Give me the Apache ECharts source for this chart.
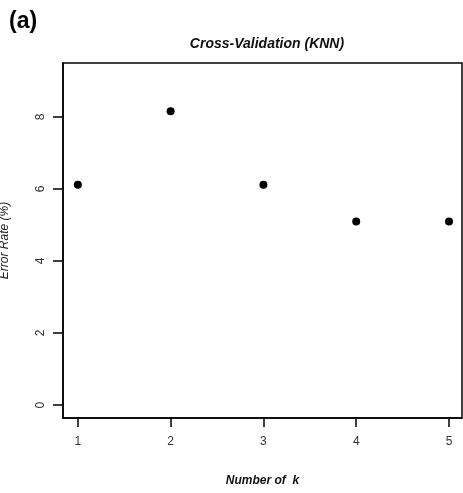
<!DOCTYPE html>
<html><head><meta charset="utf-8">
<script src="https://cdn.jsdelivr.net/npm/echarts@6/dist/echarts.min.js"></script>
<style>html,body{margin:0;padding:0;background:#fff}#c{width:463px;height:493px}</style>
</head><body><div id="c"></div>
<script>
const kValues = [1, 2, 3, 4, 5];
const errorRates = [6.12, 8.16, 6.12, 5.10, 5.10];
const xTicks = [1, 2, 3, 4, 5];
const yTicks = [0, 2, 4, 6, 8];

const chart = echarts.init(document.getElementById('c'), null, {renderer: 'canvas'});
const font = 'Liberation Sans, Arial, sans-serif';
chart.setOption({
  animation: false,
  backgroundColor: '#fff',
  title: [
    {text: '(a)', left: 4, top: 5, textStyle: {fontFamily: font, fontSize: 23, fontWeight: 'bold', color: '#000'}},
    {text: 'Cross-Validation (KNN)', left: 262, top: 32, textAlign: 'center',
     textStyle: {fontFamily: font, fontSize: 14, fontWeight: 'bold', fontStyle: 'italic', color: '#111'}}
  ],
  grid: {left: 63, right: 1, top: 63, bottom: 75, show: true, borderColor: '#000', borderWidth: 1.5,
         containLabel: false, outerBoundsMode: 'none'},
  xAxis: {
    type: 'value', min: 0.84, max: 5.14,
    name: 'Number of  k', nameLocation: 'middle', nameGap: 57,
    nameTextStyle: {fontFamily: font, fontSize: 12, fontWeight: 'bold', fontStyle: 'italic', color: '#111'},
    axisLine: {show: true, onZero: false, lineStyle: {color: '#000', width: 1.5}},
    axisTick: {show: true, length: 9, customValues: xTicks, lineStyle: {color: '#000', width: 1.5}},
    axisLabel: {customValues: xTicks, margin: 18, fontFamily: font, fontSize: 12, color: '#333'},
    splitLine: {show: false}
  },
  yAxis: {
    type: 'value', min: -0.36, max: 9.5,
    name: 'Error Rate (%)', nameLocation: 'middle', nameGap: 52,
    nameTextStyle: {fontFamily: font, fontSize: 12, fontStyle: 'italic', color: '#222'},
    axisLine: {show: true, onZero: false, lineStyle: {color: '#000', width: 1.5}},
    axisTick: {show: true, length: 10, customValues: yTicks, lineStyle: {color: '#000', width: 1.5}},
    axisLabel: {customValues: yTicks, rotate: 90, margin: 16, fontFamily: font, fontSize: 12, color: '#333'},
    splitLine: {show: false}
  },
  series: [{
    type: 'scatter',
    data: kValues.map((k, i) => [k, errorRates[i]]),
    symbol: 'circle', symbolSize: 8,
    itemStyle: {color: '#000', opacity: 1}
  }]
});
</script></body></html>
